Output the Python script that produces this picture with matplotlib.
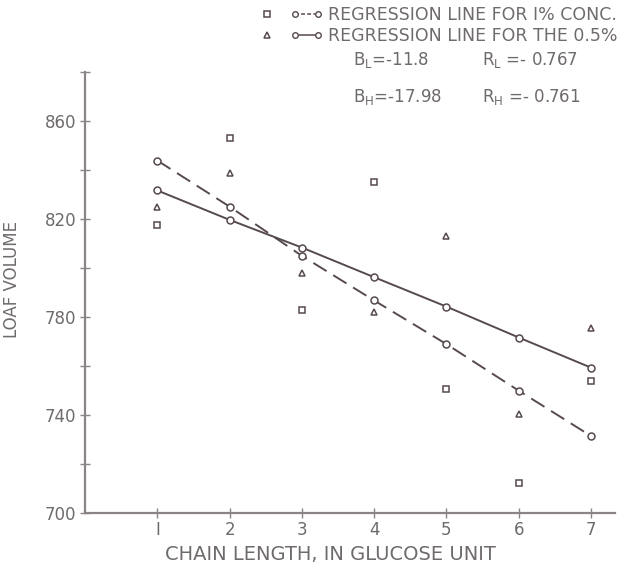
import matplotlib
matplotlib.use("Agg")
import matplotlib.pyplot as plt
from matplotlib.lines import Line2D
from matplotlib.legend_handler import HandlerTuple, HandlerLine2D

chain = [1, 2, 3, 4, 5, 6, 7]
# observed loaf volumes
conc_1 = [817.6, 852.9, 782.9, 835.0, 750.5, 712.1, 753.9]
conc_05 = [825.0, 838.7, 798.1, 781.9, 813.1, 740.3, 775.4]
# regression line points
reg_1 = [843.8, 825.0, 804.9, 786.7, 768.9, 749.9, 731.4]
reg_05 = [831.6, 819.6, 808.3, 796.2, 784.2, 771.6, 759.3]
yticks = [700, 740, 780, 820, 860]

txt = "#6f6a6c"
ink = "#574a4e"
plt.rcParams['font.family'] = ['DejaVu Sans']
plt.rcParams['mathtext.default'] = 'regular'

fig = plt.figure(figsize=(6.3, 5.7), dpi=100)
ax = fig.add_axes([0.135, 0.1, 0.841, 0.774])

ax.plot(chain, reg_1, color=ink, lw=1.4, ls=(0, (8, 4)), marker='o', ms=5,
        mfc='white', mec=ink, mew=1.1)
ax.plot(chain, reg_05, color=ink, lw=1.4, marker='o', ms=5,
        mfc='white', mec=ink, mew=1.1)
ax.plot(chain, conc_1, ls='none', marker='s', ms=4, mfc='white', mec=ink, mew=1.1)
ax.plot(chain, conc_05, ls='none', marker='^', ms=5, mfc='white', mec=ink, mew=1.1)

ax.set_xlim(0, 7.33)
ax.set_ylim(700, 880)
for s in ['top', 'right']:
    ax.spines[s].set_visible(False)
for s in ['left', 'bottom']:
    ax.spines[s].set_color("#8a8486")
    ax.spines[s].set_linewidth(1.6)

ax.set_xticks(chain)
ax.set_xticklabels(['I', '2', '3', '4', '5', '6', '7'])
ax.set_yticks(yticks + [880])
ax.set_yticklabels([str(v) for v in yticks] + [''])
ax.set_yticks(range(720, 880, 40), minor=True)
ax.tick_params(direction='inout', length=7, width=1, color="#8a8486",
               labelcolor=txt, labelsize=12)
ax.tick_params(axis='y', pad=3)
ax.tick_params(axis='x', pad=2)
ax.tick_params(which='minor', direction='inout', length=7, width=1, color="#8a8486")

ax.set_xlabel("CHAIN LENGTH, IN GLUCOSE UNIT", color=txt, fontsize=14)
ax.xaxis.set_label_coords(0.464, -0.072)
ax.set_ylabel("LOAF VOLUME", color=txt, fontsize=12)
ax.yaxis.set_label_coords(-0.12, 0.53)

sq = Line2D([], [], ls='none', marker='s', ms=4, mfc='white', mec=ink, mew=1.1)
tri = Line2D([], [], ls='none', marker='^', ms=5, mfc='white', mec=ink, mew=1.1)
dl = Line2D([], [], color=ink, lw=1.1, ls=(0, (2.5, 1.5)), marker='o', ms=4,
            mfc='white', mec=ink, mew=1)
sl = Line2D([], [], color=ink, lw=1.1, marker='o', ms=4, mfc='white', mec=ink, mew=1)
leg = fig.legend([(sq, dl), (tri, sl)],
                 ["REGRESSION LINE FOR I% CONC.", "REGRESSION LINE FOR THE 0.5%"],
                 handler_map={tuple: HandlerTuple(ndivide=None, pad=0.4),
                              sq: HandlerLine2D(numpoints=1),
                              tri: HandlerLine2D(numpoints=1)},
                 numpoints=2, loc='upper right', bbox_to_anchor=(1.0, 1.01),
                 frameon=False, fontsize=12.5, labelspacing=0.15,
                 handlelength=4.2, handletextpad=0.3, borderpad=0.2)
for t in leg.get_texts():
    t.set_color(txt)

fig.text(0.56, 0.894, "B$_L$=-11.8", color=txt, fontsize=12, va='center')
fig.text(0.765, 0.894, "R$_L$ =- 0.767", color=txt, fontsize=12, va='center')
fig.text(0.56, 0.829, "B$_H$=-17.98", color=txt, fontsize=12, va='center')
fig.text(0.765, 0.829, "R$_H$ =- 0.761", color=txt, fontsize=12, va='center')

fig.savefig("out.png", dpi=100, facecolor='white')
